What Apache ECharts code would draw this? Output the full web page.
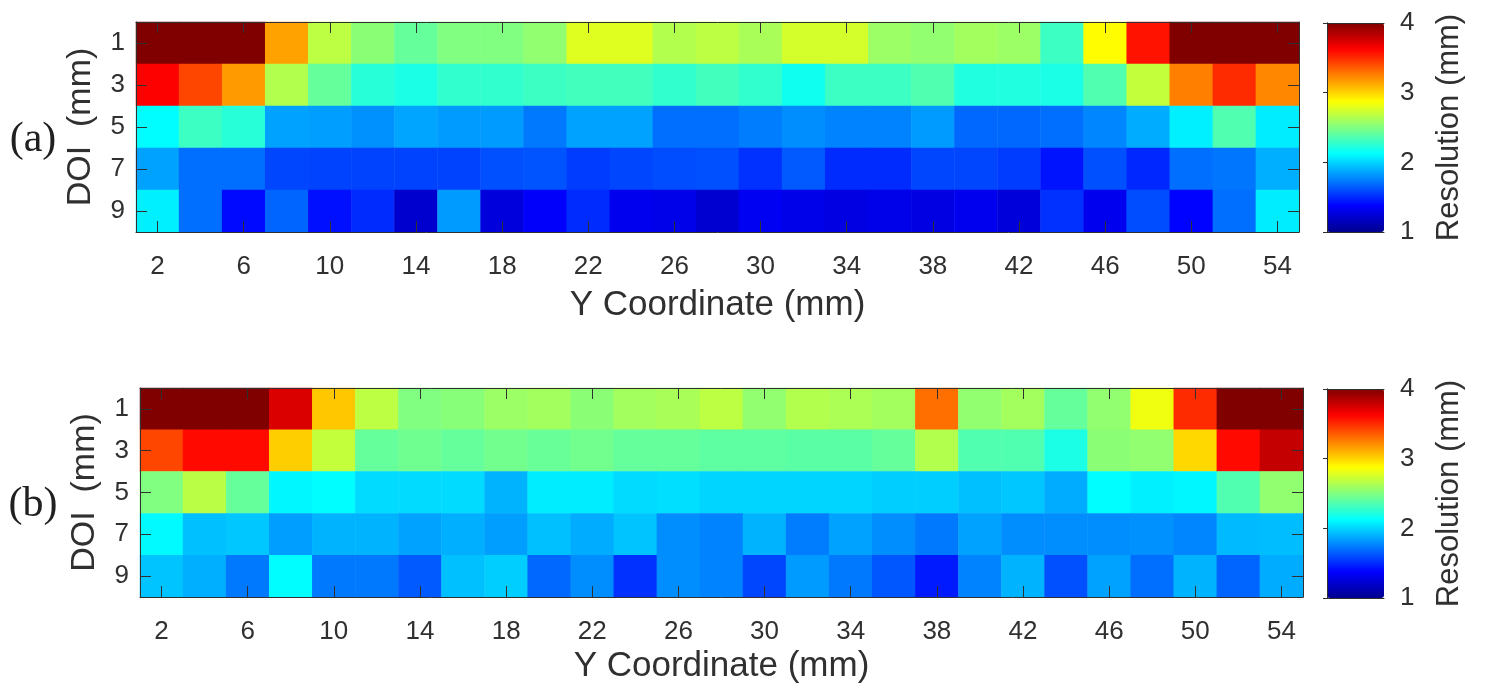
<!DOCTYPE html>
<html>
<head>
<meta charset="utf-8">
<title>DOI resolution</title>
<script src="https://cdn.jsdelivr.net/npm/echarts@6/dist/echarts.min.js"></script>
<style>
html, body { margin: 0; padding: 0; background: #fff; }
#chart { width: 1486px; height: 697px; }
</style>
</head>
<body>
<div id="chart"></div>
<script>
// y coordinate (mm) columns, DOI (mm) rows
var yCoord = ['2', '4', '6', '8', '10', '12', '14', '16', '18', '20', '22', '24', '26', '28',
    '30', '32', '34', '36', '38', '40', '42', '44', '46', '48', '50', '52', '54'];
var doi = ['1', '3', '5', '7', '9'];
var cbarTicks = [1, 2, 3, 4];

// (a) resolution (mm), one array per DOI row
var a_doi1 = [4.0, 4.0, 4.0, 3.15, 2.68, 2.53, 2.42, 2.5, 2.5, 2.55, 2.78, 2.78, 2.65, 2.68, 2.62, 2.75, 2.75, 2.58, 2.55, 2.6, 2.58, 2.3, 2.88, 3.57, 4.0, 4.0, 4.0];
var a_doi3 = [3.63, 3.42, 3.17, 2.65, 2.42, 2.24, 2.2, 2.27, 2.27, 2.3, 2.32, 2.32, 2.27, 2.32, 2.27, 2.17, 2.3, 2.3, 2.36, 2.22, 2.22, 2.2, 2.36, 2.7, 3.25, 3.5, 3.23];
var a_doi5 = [2.12, 2.3, 2.24, 1.85, 1.84, 1.8, 1.86, 1.83, 1.83, 1.73, 1.85, 1.85, 1.7, 1.7, 1.74, 1.79, 1.76, 1.76, 1.83, 1.68, 1.68, 1.7, 1.77, 1.88, 2.08, 2.36, 2.07];
var a_doi7 = [1.85, 1.7, 1.7, 1.58, 1.57, 1.57, 1.57, 1.57, 1.61, 1.62, 1.55, 1.58, 1.6, 1.61, 1.52, 1.64, 1.5, 1.5, 1.58, 1.58, 1.55, 1.43, 1.61, 1.49, 1.7, 1.72, 1.89];
var a_doi9 = [2.08, 1.7, 1.4, 1.67, 1.42, 1.5, 1.21, 1.83, 1.26, 1.36, 1.5, 1.32, 1.3, 1.22, 1.33, 1.3, 1.28, 1.3, 1.28, 1.32, 1.25, 1.52, 1.32, 1.6, 1.38, 1.7, 2.07];

// (b)
var b_doi1 = [4.0, 4.0, 4.0, 3.73, 3.04, 2.68, 2.5, 2.52, 2.58, 2.6, 2.53, 2.6, 2.62, 2.68, 2.55, 2.65, 2.63, 2.6, 3.3, 2.55, 2.6, 2.42, 2.55, 2.83, 3.5, 4.0, 4.0];
var b_doi3 = [3.42, 3.6, 3.6, 3.02, 2.7, 2.42, 2.45, 2.42, 2.46, 2.43, 2.46, 2.42, 2.42, 2.4, 2.4, 2.39, 2.39, 2.42, 2.65, 2.36, 2.36, 2.2, 2.53, 2.55, 2.99, 3.6, 3.8];
var b_doi5 = [2.5, 2.67, 2.42, 2.1, 2.12, 2.02, 2.02, 2.02, 1.9, 2.07, 2.07, 2.02, 2.03, 2.0, 2.0, 2.0, 2.0, 1.98, 1.98, 1.94, 1.96, 1.88, 2.12, 2.08, 2.1, 2.36, 2.55];
var b_doi7 = [2.11, 1.94, 1.96, 1.84, 1.9, 1.9, 1.85, 1.89, 1.84, 1.94, 1.88, 1.95, 1.79, 1.76, 1.9, 1.74, 1.85, 1.79, 1.73, 1.85, 1.79, 1.79, 1.79, 1.8, 1.77, 1.92, 1.93];
var b_doi9 = [1.95, 1.89, 1.73, 2.12, 1.73, 1.73, 1.64, 1.94, 1.98, 1.68, 1.79, 1.52, 1.79, 1.76, 1.58, 1.83, 1.73, 1.63, 1.45, 1.76, 1.9, 1.61, 1.85, 1.7, 1.9, 1.67, 1.88];

// matlab jet, evenly spaced stops
var jet = ['#00008f', '#0000ff', '#0080ff', '#00ffff', '#80ff80', '#ffff00', '#ff8000', '#ff0000', '#800000'];

var chart = echarts.init(document.getElementById('chart'));

var txt = '#303030';
var font = 'Liberation Sans';

function toCells(rows) {
    var out = [];
    for (var r = 0; r < rows.length; r++) {
        for (var c = 0; c < rows[r].length; c++) {
            out.push([c, r, rows[r][c]]);
        }
    }
    return out;
}

// bottom / top x axes and left / right y axes of one heatmap panel
function panelAxes(g, xs, ys, nameGap) {
    var line = { show: true, lineStyle: { color: txt, width: 1 } };
    var tick = { show: true, inside: true, alignWithLabel: true, length: 11, lineStyle: { color: txt, width: 1 } };
    var xtick = Object.assign({}, tick, { interval: 1 });
    xs.push({
        type: 'category', gridIndex: g, data: yCoord, position: 'bottom', z: 10,
        axisLine: line,
        axisTick: xtick,
        axisLabel: { interval: 1, margin: 22, fontSize: 26, color: txt, fontFamily: font },
        name: 'Y Coordinate (mm)', nameLocation: 'middle', nameGap: nameGap,
        nameTextStyle: { fontSize: 35, color: txt, fontFamily: font }
    });
    xs.push({
        type: 'category', gridIndex: g, data: yCoord, position: 'top', z: 10,
        axisLine: line,
        axisTick: xtick,
        axisLabel: { show: false }
    });
    ys.push({
        type: 'category', gridIndex: g, data: doi, inverse: true, position: 'left', z: 10,
        axisLine: line, axisTick: tick,
        axisLabel: { margin: 11, fontSize: 26, color: txt, fontFamily: font, padding: [8, 0, 0, 0] },
        name: 'DOI  (mm)', nameLocation: 'middle', nameGap: 38, nameRotate: 90,
        nameTextStyle: { fontSize: 34, color: txt, fontFamily: font }
    });
    ys.push({
        type: 'category', gridIndex: g, data: doi, inverse: true, position: 'right', z: 10,
        axisLine: line, axisTick: tick, axisLabel: { show: false }
    });
}

// frame and 1..4 scale drawn over the visualMap bar
function cbarAxes(g, xs, ys) {
    var line = { show: true, lineStyle: { color: txt, width: 1 } };
    xs.push({ type: 'value', gridIndex: g, min: 0, max: 1, position: 'bottom', z: 10,
        axisLine: line, axisTick: { show: false }, axisLabel: { show: false }, splitLine: { show: false } });
    xs.push({ type: 'value', gridIndex: g, min: 0, max: 1, position: 'top', z: 10,
        axisLine: line, axisTick: { show: false }, axisLabel: { show: false }, splitLine: { show: false } });
    ys.push({
        type: 'value', gridIndex: g, min: cbarTicks[0], max: cbarTicks[cbarTicks.length - 1], interval: 1,
        position: 'right', z: 10,
        axisLine: line,
        axisTick: { show: true, inside: true, length: 4, lineStyle: { color: txt } },
        axisLabel: { margin: 16, fontSize: 26, color: txt, fontFamily: font, padding: [10, 0, 0, 0],
            formatter: function (v) { return cbarTicks.indexOf(v) >= 0 ? String(v) : ''; } },
        splitLine: { show: false },
        name: 'Resolution (mm)', nameLocation: 'middle', nameGap: 50, nameRotate: 90,
        nameTextStyle: { fontSize: 31, color: txt, fontFamily: font }
    });
    ys.push({ type: 'value', gridIndex: g, min: 1, max: 4, position: 'left', z: 10,
        axisLine: line, axisTick: { show: false }, axisLabel: { show: false }, splitLine: { show: false } });
}

var xAxes = [], yAxes = [];
panelAxes(0, xAxes, yAxes, 56);
panelAxes(1, xAxes, yAxes, 52);
cbarAxes(2, xAxes, yAxes);
cbarAxes(3, xAxes, yAxes);

var option = {
    backgroundColor: '#fff',
    animation: false,
    grid: [
        { left: 136, top: 22, width: 1163, height: 210 },
        { left: 140, top: 388, width: 1163, height: 209 },
        { left: 1327, top: 23, width: 57, height: 209 },
        { left: 1327, top: 389, width: 57, height: 209 }
    ],
    xAxis: xAxes,
    yAxis: yAxes,
    visualMap: [
        { type: 'continuous', seriesIndex: 0, min: 1, max: 4, calculable: false, hoverLink: false,
            left: 1327, top: 23, itemWidth: 57, itemHeight: 209, padding: 0, inRange: { color: jet } },
        { type: 'continuous', seriesIndex: 1, min: 1, max: 4, calculable: false, hoverLink: false,
            left: 1327, top: 389, itemWidth: 57, itemHeight: 209, padding: 0, inRange: { color: jet } }
    ],
    graphic: [
        { type: 'text', x: 33, y: 140, style: { text: '(a)', font: '42px "Liberation Serif"', fill: '#202020', textAlign: 'center', textVerticalAlign: 'middle' } },
        { type: 'text', x: 33, y: 505, style: { text: '(b)', font: '42px "Liberation Serif"', fill: '#202020', textAlign: 'center', textVerticalAlign: 'middle' } }
    ],
    series: [
        { type: 'heatmap', xAxisIndex: 0, yAxisIndex: 0, data: toCells([a_doi1, a_doi3, a_doi5, a_doi7, a_doi9]),
            itemStyle: { borderWidth: 0 }, emphasis: { disabled: true } },
        { type: 'heatmap', xAxisIndex: 2, yAxisIndex: 2, data: toCells([b_doi1, b_doi3, b_doi5, b_doi7, b_doi9]),
            itemStyle: { borderWidth: 0 }, emphasis: { disabled: true } }
    ]
};

chart.setOption(option);
</script>
</body>
</html>
